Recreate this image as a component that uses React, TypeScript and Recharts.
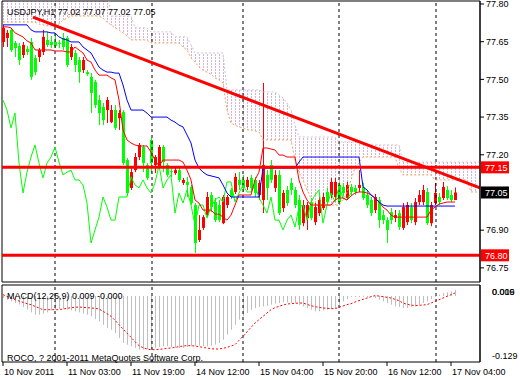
import React from 'react'
import { Area, Bar, ComposedChart, Line, ReferenceArea, ReferenceLine, XAxis, YAxis } from 'recharts'

const FONT = "'Liberation Sans', Arial, sans-serif"

// USDJPY H1 candles, bar 0 = 10 Nov 2011 11:00
const opens = [
  77.649, 77.665, 77.697, 77.645, 77.633, 77.597, 77.621, 77.649, 77.585, 77.589,
  77.609, 77.657, 77.649, 77.649, 77.645, 77.665, 77.665, 77.589, 77.605, 77.577,
  77.537, 77.529, 77.51, 77.49, 77.418, 77.39, 77.378, 77.33, 77.378, 77.346,
  77.37, 77.179, 77.068, 77.139, 77.191, 77.231, 77.159, 77.259, 77.159, 77.151,
  77.231, 77.159, 77.135, 77.127, 77.139, 77.088, 77.092, 77.072, 77.0, 76.861,
  76.909, 76.96, 77.04, 77.012, 77.0, 76.928, 77.0, 77.06, 77.052, 77.1,
  77.1, 77.072, 77.108, 77.1, 77.04, 77.02, 77.12, 77.159, 77.068, 77.12,
  76.988, 77.06, 77.088, 77.06, 77.02, 76.928, 76.948, 77.012, 76.932, 76.968,
  76.988, 77.052, 77.04, 77.032, 77.08, 77.072, 77.028, 77.072, 77.068, 77.068,
  77.072, 77.04, 77.02, 76.98, 77.02, 76.96, 76.94, 76.972, 76.948, 76.968,
  76.909, 76.932, 76.992, 76.932, 77.012, 77.012, 77.052, 76.928, 77.008, 77.032,
  77.028, 77.06, 77.04, 77.02,
]
const highs = [
  77.717, 77.697, 77.705, 77.653, 77.645, 77.649, 77.633, 77.665, 77.597, 77.625,
  77.697, 77.689, 77.673, 77.681, 77.657, 77.685, 77.673, 77.641, 77.617, 77.589,
  77.589, 77.537, 77.525, 77.498, 77.438, 77.406, 77.43, 77.398, 77.398, 77.378,
  77.378, 77.187, 77.147, 77.207, 77.247, 77.239, 77.167, 77.267, 77.199, 77.239,
  77.239, 77.167, 77.147, 77.147, 77.147, 77.108, 77.112, 77.08, 77.008, 76.96,
  76.96, 77.052, 77.052, 77.028, 77.02, 77.04, 77.04, 77.068, 77.127, 77.131,
  77.12, 77.112, 77.12, 77.112, 77.1, 77.486, 77.139, 77.179, 77.139, 77.139,
  77.06, 77.076, 77.108, 77.072, 77.04, 77.02, 77.012, 77.028, 77.008, 77.032,
  77.048, 77.068, 77.108, 77.108, 77.092, 77.088, 77.092, 77.084, 77.08, 77.139,
  77.088, 77.06, 77.032, 77.044, 77.032, 76.98, 76.952, 76.988, 76.98, 76.98,
  77.008, 77.012, 77.008, 77.028, 77.06, 77.08, 77.068, 77.012, 77.088, 77.048,
  77.092, 77.076, 77.06, 77.07,
]
const lows = [
  77.629, 77.629, 77.609, 77.589, 77.557, 77.585, 77.597, 77.498, 77.517, 77.569,
  77.597, 77.629, 77.625, 77.625, 77.625, 77.617, 77.549, 77.577, 77.529, 77.486,
  77.525, 77.514, 77.366, 77.386, 77.318, 77.318, 77.326, 77.326, 77.299, 77.299,
  77.159, 77.036, 77.06, 77.131, 77.179, 77.131, 77.1, 77.127, 77.127, 77.147,
  77.131, 77.112, 77.112, 77.12, 77.092, 77.08, 77.032, 77.0, 76.809, 76.853,
  76.901, 76.952, 76.972, 76.932, 76.932, 76.924, 76.988, 77.024, 77.044, 77.06,
  77.052, 77.06, 77.052, 77.032, 77.02, 76.968, 77.02, 77.088, 77.052, 76.96,
  76.972, 76.996, 77.04, 76.988, 76.901, 76.916, 76.901, 76.94, 76.92, 76.956,
  76.98, 77.0, 77.028, 77.02, 77.0, 77.036, 77.02, 77.04, 77.04, 77.052,
  77.02, 76.988, 76.956, 76.968, 76.909, 76.924, 76.849, 76.924, 76.932, 76.901,
  76.901, 76.92, 76.928, 76.92, 77.0, 77.0, 76.92, 76.916, 77.0, 77.0,
  77.02, 77.02, 77.012, 77.02,
]
const closes = [
  77.705, 77.685, 77.617, 77.625, 77.577, 77.637, 77.609, 77.51, 77.529, 77.617,
  77.669, 77.637, 77.637, 77.633, 77.641, 77.629, 77.557, 77.629, 77.557, 77.529,
  77.577, 77.521, 77.446, 77.398, 77.366, 77.338, 77.418, 77.378, 77.307, 77.366,
  77.167, 77.048, 77.131, 77.191, 77.239, 77.167, 77.108, 77.167, 77.191, 77.231,
  77.171, 77.12, 77.131, 77.139, 77.1, 77.1, 77.08, 77.008, 76.849, 76.901,
  76.952, 77.032, 76.992, 76.94, 76.94, 77.032, 77.032, 77.032, 77.112, 77.08,
  77.068, 77.1, 77.068, 77.048, 77.088, 77.159, 77.068, 77.1, 77.12, 76.968,
  77.048, 77.008, 77.06, 77.0, 76.92, 77.0, 77.0, 76.948, 76.992, 77.02,
  77.032, 77.012, 77.092, 77.092, 77.012, 77.048, 77.08, 77.052, 77.052, 77.08,
  77.028, 77.0, 76.968, 77.032, 76.94, 76.94, 76.901, 76.94, 76.96, 76.913,
  76.992, 77.0, 76.94, 77.012, 77.04, 77.06, 76.928, 77.0, 77.048, 77.012,
  77.072, 77.028, 77.02, 77.05,
]

// Ichimoku (9, 26, 52)
const tenkan = [
  77.709, 77.709, 77.705, 77.685, 77.677, 77.669, 77.653, 77.645, 77.617, 77.617,
  77.617, 77.617, 77.617, 77.613, 77.613, 77.613, 77.609, 77.609, 77.629, 77.617,
  77.605, 77.577, 77.569, 77.537, 77.517, 77.517, 77.517, 77.506, 77.498, 77.418,
  77.299, 77.259, 77.247, 77.239, 77.235, 77.235, 77.235, 77.211, 77.179, 77.155,
  77.179, 77.179, 77.179, 77.179, 77.179, 77.171, 77.139, 77.1, 77.02, 77.008,
  76.98, 76.98, 76.98, 76.964, 76.964, 76.952, 76.94, 76.96, 77.0, 77.04,
  77.04, 77.04, 77.04, 77.1, 77.131, 77.227, 77.227, 77.223, 77.219, 77.199,
  77.199, 77.191, 77.191, 77.191, 77.1, 77.052, 77.02, 77.0, 77.0, 77.0,
  77.0, 77.0, 77.0, 77.02, 77.028, 77.028, 77.02, 77.036, 77.048, 77.052,
  77.052, 77.048, 77.04, 77.028, 77.012, 76.992, 76.98, 76.96, 76.952, 76.952,
  76.952, 76.952, 76.952, 76.952, 76.952, 76.952, 76.952, 76.98, 76.992, 77.004,
  77.008, 77.012, 77.012, 77.012,
]
const kijun = [
  77.717, 77.717, 77.717, 77.717, 77.717, 77.717, 77.717, 77.697, 77.689, 77.689,
  77.689, 77.689, 77.685, 77.685, 77.669, 77.661, 77.657, 77.649, 77.649, 77.649,
  77.629, 77.617, 77.605, 77.577, 77.549, 77.537, 77.529, 77.529, 77.525, 77.525,
  77.478, 77.418, 77.378, 77.378, 77.378, 77.378, 77.366, 77.35, 77.35, 77.35,
  77.35, 77.35, 77.338, 77.33, 77.318, 77.311, 77.279, 77.247, 77.179, 77.147,
  77.131, 77.12, 77.116, 77.112, 77.108, 77.08, 77.048, 77.032, 77.032, 77.032,
  77.032, 77.032, 77.032, 77.032, 77.032, 77.147, 77.147, 77.147, 77.147, 77.147,
  77.147, 77.147, 77.147, 77.147, 77.171, 77.191, 77.191, 77.191, 77.191, 77.191,
  77.191, 77.191, 77.191, 77.191, 77.191, 77.191, 77.191, 77.191, 77.191, 77.191,
  77.072, 77.06, 77.04, 77.028, 77.012, 77.0, 76.996, 76.996, 76.996, 76.996,
  76.996, 76.996, 76.996, 76.996, 76.996, 76.996, 76.996, 76.996, 76.996, 76.996,
  76.996, 76.996, 76.996, 76.996,
]
// spans run 26 bars past the last candle
const spanA = [
  77.728, 77.728, 77.728, 77.728, 77.728, 77.728, 77.728, 77.728, 77.728, 77.72,
  77.717, 77.713, 77.713, 77.717, 77.72, 77.736, 77.744, 77.752, 77.752, 77.752,
  77.752, 77.752, 77.752, 77.752, 77.752, 77.744, 77.728, 77.717, 77.705, 77.697,
  77.685, 77.673, 77.657, 77.657, 77.657, 77.657, 77.657, 77.645, 77.645, 77.645,
  77.645, 77.645, 77.645, 77.645, 77.645, 77.629, 77.617, 77.585, 77.569, 77.549,
  77.537, 77.529, 77.521, 77.506, 77.498, 77.486, 77.378, 77.326, 77.318, 77.311,
  77.307, 77.299, 77.299, 77.295, 77.291, 77.259, 77.259, 77.259, 77.259, 77.259,
  77.259, 77.259, 77.259, 77.179, 77.131, 77.1, 77.06, 77.028, 77.0, 77.0,
  77.0, 77.0, 77.0, 77.0, 77.0, 77.02, 77.052, 77.1, 77.147, 77.167,
  77.191, 77.191, 77.191, 77.191, 77.191, 77.191, 77.191, 77.191, 77.191, 77.147,
  77.12, 77.12, 77.12, 77.12, 77.12, 77.12, 77.12, 77.12, 77.1, 77.1,
  77.1, 77.1, 77.1, 77.1, 77.1, 77.1, 77.1, 77.052, 77.052, 77.052,
]
const spanB = [
  77.86, 77.86, 77.86, 77.86, 77.86, 77.86, 77.86, 77.86, 77.86, 77.86,
  77.86, 77.86, 77.86, 77.86, 77.86, 77.86, 77.86, 77.86, 77.86, 77.86,
  77.86, 77.86, 77.86, 77.86, 77.86, 77.86, 77.86, 77.752, 77.752, 77.752,
  77.752, 77.752, 77.752, 77.705, 77.705, 77.705, 77.705, 77.689, 77.689, 77.689,
  77.689, 77.689, 77.689, 77.669, 77.669, 77.669, 77.669, 77.637, 77.605, 77.605,
  77.605, 77.605, 77.605, 77.605, 77.605, 77.605, 77.458, 77.458, 77.458, 77.458,
  77.458, 77.458, 77.458, 77.458, 77.458, 77.45, 77.45, 77.45, 77.45, 77.438,
  77.426, 77.406, 77.378, 77.318, 77.271, 77.271, 77.271, 77.271, 77.271, 77.271,
  77.271, 77.271, 77.271, 77.271, 77.251, 77.251, 77.251, 77.251, 77.251, 77.251,
  77.239, 77.239, 77.239, 77.239, 77.239, 77.239, 77.239, 77.239, 77.239, 77.239,
  77.171, 77.171, 77.171, 77.171, 77.171, 77.171, 77.171, 77.171, 77.171, 77.171,
  77.171, 77.171, 77.171, 77.171, 77.171, 77.171, 77.171, 77.171, 77.171, 77.171,
]
const CHIKOU_SHIFT = 26

// MACD(12,26,9)
const macdMain = [
  -0.0039, -0.0072, -0.0104, -0.0137, -0.0169, -0.0215, -0.0267, -0.0319, -0.0365, -0.0365,
  -0.0345, -0.0319, -0.028, -0.0267, -0.0254, -0.0254, -0.0267, -0.028, -0.0299, -0.0319,
  -0.0345, -0.0365, -0.0397, -0.0449, -0.0495, -0.056, -0.0625, -0.0658, -0.0723, -0.082,
  -0.0918, -0.0951, -0.0983, -0.1016, -0.1048, -0.1048, -0.1035, -0.1035, -0.1016, -0.0996,
  -0.0983, -0.0983, -0.0996, -0.1016, -0.1016, -0.1016, -0.0996, -0.0983, -0.097, -0.097,
  -0.0983, -0.0983, -0.097, -0.0951, -0.0918, -0.0853, -0.0755, -0.0658, -0.056, -0.0462,
  -0.0397, -0.0332, -0.0267, -0.0234, -0.0215, -0.0202, -0.0189, -0.0169, -0.015, -0.0137,
  -0.0124, -0.0124, -0.0137, -0.015, -0.0176, -0.0202, -0.0234, -0.0267, -0.0299, -0.0299,
  -0.028, -0.0267, -0.0254, -0.0234, -0.0169, -0.0104, -0.0059, -0.002, -0.0007, -0.0007,
  0.0007, -0.0007, -0.002, -0.0039, -0.0072, -0.0104, -0.0137, -0.0169, -0.0202, -0.0215,
  -0.0234, -0.0234, -0.0215, -0.0202, -0.0169, -0.0137, -0.0104, -0.0059, -0.002, 0.0026,
  0.0059, 0.0072, 0.0091, 0.0124,
]
const macdSignal = [
  0.0026, -0.0007, -0.0039, -0.0072, -0.0098, -0.0124, -0.015, -0.0169, -0.0202, -0.0234,
  -0.0267, -0.0267, -0.0267, -0.0267, -0.0267, -0.0254, -0.0241, -0.0228, -0.0221, -0.0215,
  -0.0221, -0.0228, -0.0234, -0.0241, -0.0254, -0.0299, -0.0345, -0.0397, -0.0475, -0.056,
  -0.0645, -0.0723, -0.0807, -0.0892, -0.097, -0.1009, -0.1035, -0.1048, -0.1048, -0.1042,
  -0.1035, -0.1022, -0.1016, -0.1003, -0.099, -0.0977, -0.097, -0.097, -0.0977, -0.099,
  -0.1003, -0.1016, -0.1029, -0.1035, -0.1035, -0.1022, -0.1003, -0.0977, -0.0951, -0.0866,
  -0.0788, -0.0703, -0.0612, -0.0527, -0.0462, -0.0397, -0.0332, -0.0267, -0.0228, -0.0202,
  -0.0176, -0.0156, -0.015, -0.0143, -0.0137, -0.0137, -0.0163, -0.0189, -0.0208, -0.0221,
  -0.0234, -0.0241, -0.0247, -0.0247, -0.0221, -0.0195, -0.0169, -0.015, -0.0117, -0.0091,
  -0.0065, -0.0039, -0.0013, 0.0007, 0.0, -0.0013, -0.0026, -0.0039, -0.0065, -0.0091,
  -0.0137, -0.0163, -0.0176, -0.0189, -0.0182, -0.0176, -0.0169, -0.0137, -0.0104, -0.0072,
  -0.0039, -0.0007, 0.0026, 0.0059,
]

const timeTicks = [0, 16, 32, 48, 64, 80, 96, 112]
const timeLabels = ['10 Nov 2011', '11 Nov 03:00', '11 Nov 19:00', '14 Nov 12:00', '15 Nov 04:00', '15 Nov 20:00', '16 Nov 12:00', '17 Nov 04:00']
const daySeparators = [13, 37.25, 60, 84, 108.25]
const priceTicks = [76.75, 76.9, 77.2, 77.35, 77.5, 77.65, 77.8]
const levels = [77.15, 76.8]
const lastPrice = 77.05
const trend = [{ x: 7.5, y: 77.748 }, { x: 119.25, y: 77.068 }]
const macdTicks = [0.016, 0.009, -0.129]

const X_DOMAIN = [-0.25, 119.25]
const P_MIN = 76.6938
const P_MAX = 77.8119
const M_MIN = -0.1289
const M_MAX = 0.0215

const rows = spanA.map((a, i) => {
  const has = i < closes.length
  return {
    i,
    o: has ? opens[i] : undefined,
    h: has ? highs[i] : undefined,
    l: has ? lows[i] : undefined,
    c: has ? closes[i] : undefined,
    candle: has ? [lows[i], highs[i]] : undefined,
    tenkan: has ? tenkan[i] : undefined,
    kijun: has ? kijun[i] : undefined,
    chikou: closes[i + CHIKOU_SHIFT],
    spanA: a,
    spanB: spanB[i],
    kumo: [Math.min(a, spanB[i]), Math.max(a, spanB[i])],
  }
})

const macdRows = macdMain.map((m, i) => ({ i, main: m, signal: macdSignal[i] }))

const Candle = (props: any) => {
  const { x, y, width, height, payload } = props
  if (!payload || payload.h == null) return null
  const { o, h, l, c } = payload
  const top = Math.min(y, y + height)
  const full = Math.abs(height)
  const color = c >= o ? '#FF0000' : '#00FF00'
  const at = (p: number) => top + ((h - p) / (h - l || 1)) * full
  const cx = Math.round(x + width / 2)
  const bTop = at(Math.max(o, c))
  const bBot = at(Math.min(o, c))
  return (
    <g>
      <line x1={cx + 0.5} x2={cx + 0.5} y1={top} y2={top + full} stroke={color} />
      <rect x={cx - 1} y={bTop} width={3} height={Math.max(1, bBot - bTop)} fill={color} />
    </g>
  )
}

const HistBar = (props: any) => {
  const { x, y, width, height } = props
  if (height == null || isNaN(y)) return null
  return <rect x={Math.round(x + width / 2)} y={Math.min(y, y + height)} width={1} height={Math.max(1, Math.abs(height))} fill="#BEBEBE" />
}

const priceTag = (text: string, bg: string) => (p: any) => {
  const vb = p.viewBox
  return (
    <g>
      <rect x={vb.x + vb.width + 1} y={vb.y - 6} width={28} height={12} fill={bg} />
      <text x={vb.x + vb.width + 5} y={vb.y + 3.5} fill="#FFFFFF" fontSize={9} fontFamily={FONT}>{text}</text>
    </g>
  )
}

const TimeTick = (p: any) => {
  const k = timeTicks.indexOf(p.payload.value)
  return (
    <text x={p.x + 1} y={p.y + 8} fontSize={9} fontFamily={FONT} fill="#000" textAnchor="start">
      {timeLabels[k]}
    </text>
  )
}

const MacdTick = (p: any) => (
  <text x={p.x} y={Math.min(Math.max(p.y, 8), 72) + 3} fontSize={9} fontFamily={FONT} fill="#000" textAnchor="start">
    {p.payload.value.toFixed(3)}
  </text>
)

export default function App() {
  return (
    <div style={{ position: 'absolute', left: 0, top: 0, width: 520, height: 380, background: '#fff' }}>
      <div style={{ position: 'absolute', left: 0, top: 0 }}>
        <ComposedChart width={520} height={283} data={rows} margin={{ top: 1, right: 0, bottom: 1, left: 2 }}>
          <defs>
            <pattern id="kumo" x={3} y={0} width={4} height={3} patternUnits="userSpaceOnUse">
              <rect x={0} y={0} width={1} height={2} fill="#D4B4D4" />
            </pattern>
          </defs>
          <XAxis type="number" dataKey="i" domain={X_DOMAIN} hide allowDataOverflow />
          <YAxis
            orientation="right"
            width={40}
            domain={[P_MIN, P_MAX]}
            allowDataOverflow
            ticks={priceTicks}
            interval={0}
            tickSize={4}
            tickMargin={2}
            tickFormatter={(v: number) => v.toFixed(2)}
            tick={{ fontSize: 9, fill: '#000', fontFamily: FONT }}
            stroke="#000"
          />
          {daySeparators.map((s) => (
            <ReferenceLine key={s} x={s} stroke="#000" strokeDasharray="3 3" />
          ))}
          <Area dataKey="kumo" type="linear" stroke="none" fill="url(#kumo)" fillOpacity={1} isAnimationActive={false} />
          <Line dataKey="spanA" type="linear" stroke="#F4A460" strokeDasharray="2 2" dot={false} isAnimationActive={false} />
          <Line dataKey="spanB" type="linear" stroke="#D8BFD8" strokeDasharray="2 2" dot={false} isAnimationActive={false} />
          <Bar dataKey="candle" barSize={3} shape={Candle} isAnimationActive={false} />
          <Line dataKey="chikou" type="linear" stroke="#00FF00" dot={false} isAnimationActive={false} />
          <Line dataKey="tenkan" type="linear" stroke="#FF0000" dot={false} isAnimationActive={false} />
          <Line dataKey="kijun" type="linear" stroke="#0000FF" dot={false} isAnimationActive={false} />
          {levels.map((v) => (
            <ReferenceLine key={v} y={v} stroke="#FF0000" strokeWidth={3} label={priceTag(v.toFixed(2), '#FF0000')} />
          ))}
          <ReferenceLine y={lastPrice} stroke="none" label={priceTag(lastPrice.toFixed(2), '#000000')} />
          <ReferenceLine segment={trend} stroke="#FF0000" strokeWidth={3} />
          <ReferenceArea x1={X_DOMAIN[0]} x2={X_DOMAIN[1]} y1={P_MIN} y2={P_MAX} fill="none" stroke="#000" />
        </ComposedChart>
      </div>
      <div style={{ position: 'absolute', left: 0, top: 284 }}>
        <ComposedChart width={520} height={96} data={macdRows} margin={{ top: 1, right: 0, bottom: 0, left: 2 }}>
          <XAxis
            type="number"
            dataKey="i"
            domain={X_DOMAIN}
            allowDataOverflow
            ticks={timeTicks}
            interval={0}
            height={18}
            tickSize={4}
            tickMargin={1}
            axisLine={false}
            stroke="#000"
            tick={TimeTick}
          />
          <YAxis
            orientation="right"
            width={40}
            domain={[M_MIN, M_MAX]}
            allowDataOverflow
            ticks={macdTicks}
            interval={0}
            tickLine={false}
            tickMargin={6}
            tick={MacdTick}
            stroke="#000"
          />
          {daySeparators.map((s) => (
            <ReferenceLine key={s} x={s} stroke="#000" strokeDasharray="3 3" />
          ))}
          <Bar dataKey="main" barSize={1} shape={HistBar} isAnimationActive={false} />
          <Line dataKey="signal" type="linear" stroke="#FF0000" strokeDasharray="2 2" dot={false} isAnimationActive={false} />
          <ReferenceArea x1={X_DOMAIN[0]} x2={X_DOMAIN[1]} y1={M_MIN} y2={M_MAX} fill="none" stroke="#000" />
        </ComposedChart>
      </div>
      <svg width={520} height={380} style={{ position: 'absolute', left: 0, top: 0, pointerEvents: 'none' }}>
        <g fontFamily={FONT} fontSize={9} fill="#000">
          <text x={7} y={14.5}>USDJPY,H1  77.02 77.07 77.02 77.05</text>
          <text x={7} y={299}>MACD(12,26,9) 0.009 -0.000</text>
          <text x={7} y={360.5}>ROCO, ? 2001-2011 MetaQuotes Software Corp.</text>
        </g>
      </svg>
    </div>
  )
}
